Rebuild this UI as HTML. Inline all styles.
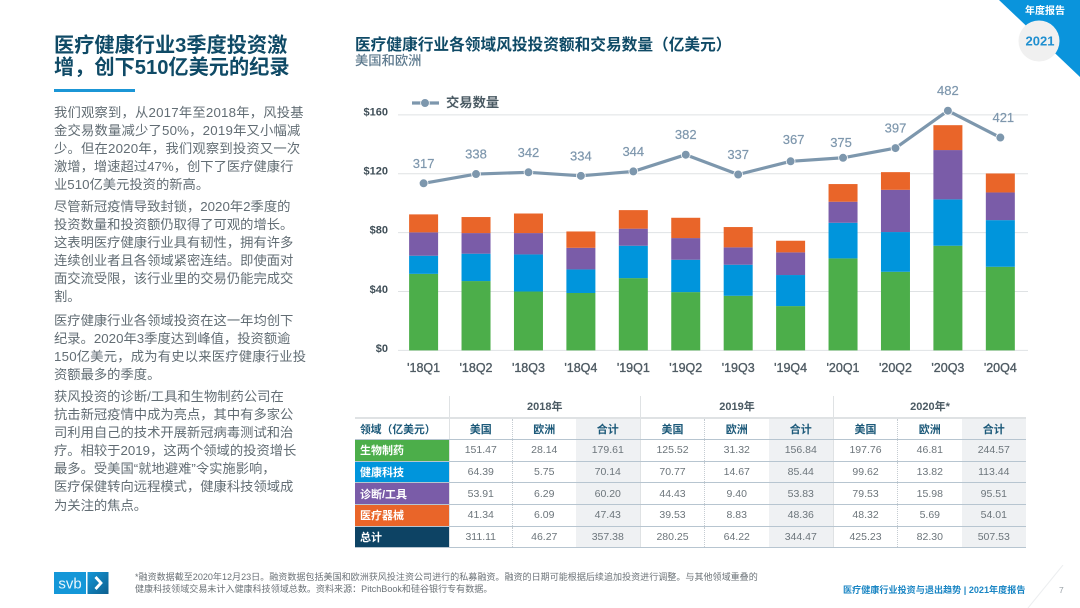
<!DOCTYPE html>
<html lang="zh-CN">
<head>
<meta charset="utf-8">
<title>医疗健康行业3季度投资激增</title>
<style>
html,body{margin:0;padding:0;background:#fff}
#page{position:relative;width:1080px;height:608px;overflow:hidden;background:#fff;font-family:"Liberation Sans","Noto Sans CJK SC",sans-serif}
.abs{position:absolute;white-space:nowrap}
#title{left:54px;top:34.5px;font-size:20.2px;line-height:22.4px;font-weight:700;color:#0f4a66}
.para{position:absolute;left:54px;font-size:13.3px;line-height:18.1px;color:#626d74;white-space:nowrap}
.wide{letter-spacing:.2px}
#chart{position:absolute;left:0;top:0}
#table{position:absolute;left:355px;top:396px;border-collapse:collapse;table-layout:fixed;width:671px;font-size:10.5px;color:#6c757b}
#table td,#table th{padding:0;text-align:center;vertical-align:middle;overflow:hidden}
#table tr{height:21.7px}
#table .yr{font-size:11px;font-weight:700;color:#4b5a63;border-bottom:2px solid #dfe2e4;border-left:1px solid #dfe2e4}
#table .sub{font-size:11px;font-weight:700;color:#1d5a7a;border-bottom:1px solid #b7c5d0}
#table .hd0{font-size:10.8px;font-weight:700;color:#1d5a7a;text-align:left;padding-left:5px;border-bottom:1px solid #b7c5d0;white-space:nowrap}
#table .cat{color:#fff;font-weight:700;font-size:11px;text-align:left;padding-left:5px;border-bottom:1px solid #fff}
#table .row td{border-bottom:1px solid #b7c5d0}
#table .us{border-left:1px solid #dfe2e4}
#table .eu{border-left:1px dotted #c5ccd2}
#table .tot{background:#eff1f3}
</style>
</head>
<body>
<div id="page">
  <div class="abs" id="title">医疗健康行业3季度投资激<br>增，创下510亿美元的纪录</div>
  <div class="abs" style="left:54px;top:89px;width:81px;height:2.5px;background:#1b96d6"></div>

  <div class="para" style="top:103.5px"><span class="wide">我们观察到，从2017年至2018年，风投基</span><br><span class="wide">金交易数量减少了50%，2019年又小幅减</span><br><span class="wide">少。但在2020年，我们观察到投资又一次</span><br>激增，增速超过47%，创下了医疗健康行<br>业510亿美元投资的新高。</div>
  <div class="para" style="top:198px">尽管新冠疫情导致封锁，2020年2季度的<br>投资数量和投资额仍取得了可观的增长。<br>这表明医疗健康行业具有韧性，拥有许多<br>连续创业者且各领域紧密连结。即使面对<br>面交流受限，该行业里的交易仍能完成交<br>割。</div>
  <div class="para" style="top:311.5px">医疗健康行业各领域投资在这一年均创下<br>纪录。2020年3季度达到峰值，投资额逾<br><span class="wide">150亿美元，成为有史以来医疗健康行业投</span><br>资额最多的季度。</div>
  <div class="para" style="top:388px">获风投资的诊断/工具和生物制药公司在<br>抗击新冠疫情中成为亮点，其中有多家公<br>司利用自己的技术开展新冠病毒测试和治<br>疗。相较于2019，这两个领域的投资增长<br>最多。受美国“就地避难”令实施影响，<br>医疗保健转向远程模式，健康科技领域成<br>为关注的焦点。</div>

  <div class="abs" style="left:355px;top:35.5px;font-size:15.7px;line-height:20px;font-weight:700;color:#0f4a66">医疗健康行业各领域风投投资额和交易数量（亿美元）</div>
  <div class="abs" style="left:355px;top:53px;font-size:13.3px;line-height:16px;font-weight:500;color:#5f7b8f">美国和欧洲</div>

  <svg id="chart" width="1080" height="392" viewBox="0 0 1080 392" xmlns="http://www.w3.org/2000/svg"></svg>

  <table id="table">
    <colgroup><col style="width:94px"><col style="width:63.5px"><col style="width:63px"><col style="width:65px"><col style="width:64px"><col style="width:64px"><col style="width:65px"><col style="width:64px"><col style="width:64px"><col style="width:64.5px"></colgroup>
    <tr><td style="border-bottom:2px solid #dfe2e4"></td><td class="yr" colspan="3">2018年</td><td class="yr" colspan="3">2019年</td><td class="yr" colspan="3">2020年*</td></tr>
    <tr><td class="hd0">领域（亿美元）</td><td class="sub us">美国</td><td class="sub eu">欧洲</td><td class="sub tot">合计</td><td class="sub us">美国</td><td class="sub eu">欧洲</td><td class="sub tot">合计</td><td class="sub us">美国</td><td class="sub eu">欧洲</td><td class="sub tot">合计</td></tr>
    <tr class="row"><td class="cat" style="background:#4cae4a">生物制药</td><td class="us">151.47</td><td class="eu">28.14</td><td class="tot">179.61</td><td class="us">125.52</td><td class="eu">31.32</td><td class="tot">156.84</td><td class="us">197.76</td><td class="eu">46.81</td><td class="tot">244.57</td></tr>
    <tr class="row"><td class="cat" style="background:#0095dc">健康科技</td><td class="us">64.39</td><td class="eu">5.75</td><td class="tot">70.14</td><td class="us">70.77</td><td class="eu">14.67</td><td class="tot">85.44</td><td class="us">99.62</td><td class="eu">13.82</td><td class="tot">113.44</td></tr>
    <tr class="row"><td class="cat" style="background:#7a5ca8">诊断/工具</td><td class="us">53.91</td><td class="eu">6.29</td><td class="tot">60.20</td><td class="us">44.43</td><td class="eu">9.40</td><td class="tot">53.83</td><td class="us">79.53</td><td class="eu">15.98</td><td class="tot">95.51</td></tr>
    <tr class="row"><td class="cat" style="background:#e96529">医疗器械</td><td class="us">41.34</td><td class="eu">6.09</td><td class="tot">47.43</td><td class="us">39.53</td><td class="eu">8.83</td><td class="tot">48.36</td><td class="us">48.32</td><td class="eu">5.69</td><td class="tot">54.01</td></tr>
    <tr class="row"><td class="cat" style="background:#0d4364">总计</td><td class="us">311.11</td><td class="eu">46.27</td><td class="tot">357.38</td><td class="us">280.25</td><td class="eu">64.22</td><td class="tot">344.47</td><td class="us">425.23</td><td class="eu">82.30</td><td class="tot">507.53</td></tr>
  </table>

  <svg class="abs" style="left:54px;top:572px" width="55" height="22" viewBox="0 0 55 22" xmlns="http://www.w3.org/2000/svg">
    <defs><linearGradient id="logoGrad" x1="0" y1="0" x2="1" y2="1"><stop offset="0" stop-color="#1497d8"/><stop offset="1" stop-color="#0d5f8e"/></linearGradient></defs>
    <rect x="0" y="0" width="32" height="22" fill="#1497d8"/>
    <rect x="33.5" y="0" width="21" height="22" fill="url(#logoGrad)"/>
    <text x="16" y="16.5" text-anchor="middle" font-family="'Liberation Sans',sans-serif" font-size="15" fill="#e8f5fc">svb</text>
    <path d="M41.5 5 L47 11 L41.5 17" fill="none" stroke="#fff" stroke-width="2.8"/>
  </svg>

  <div class="abs" style="left:135px;top:571px;font-size:9.05px;line-height:12px;color:#6b7277">*融资数据截至2020年12月23日。融资数据包括美国和欧洲获风投注资公司进行的私募融资。融资的日期可能根据后续追加投资进行调整。与其他领域重叠的<br>健康科技领域交易未计入健康科技领域总数。资料来源：PitchBook和硅谷银行专有数据。</div>
  <div class="abs" style="left:843px;top:584px;font-size:9.1px;line-height:12px;font-weight:700;color:#1b86c4">医疗健康行业投资与退出趋势 | 2021年度报告</div>
  <div class="abs" style="left:1059px;top:584px;font-size:8.5px;line-height:12px;color:#9aa2a8">7</div>

  <svg class="abs" style="left:990px;top:0" width="90" height="90" viewBox="990 0 90 90" xmlns="http://www.w3.org/2000/svg">
    <polygon points="999,0 1080,0 1080,77" fill="#0a94dc"/>
    <circle cx="1039" cy="41" r="20.5" fill="#f0f0f0"/>
    <text x="1045" y="14" text-anchor="middle" font-family="'Liberation Sans','Noto Sans CJK SC',sans-serif" font-size="10" font-weight="700" fill="#fff">年度报告</text>
    <text x="1040" y="45.5" text-anchor="middle" font-family="'Liberation Sans',sans-serif" font-size="13" font-weight="700" fill="#1f8fd0">2021</text>
  </svg>
  <svg class="abs" style="left:1025px;top:565px" width="45" height="43" xmlns="http://www.w3.org/2000/svg"><line x1="38" y1="0" x2="3" y2="43" stroke="#eceef0" stroke-width="1"/></svg>
</div>

<script>
const categories = ["'18Q1","'18Q2","'18Q3","'18Q4","'19Q1","'19Q2","'19Q3","'19Q4","'20Q1","'20Q2","'20Q3","'20Q4"];
const biopharma = [52.0,47.1,40.0,39.0,49.1,39.6,37.1,30.1,62.5,53.4,71.1,56.8];
const healthTech = [12.3,18.6,25.2,16.0,22.0,22.0,21.1,21.1,24.2,27.0,31.5,31.7];
const diagnostics = [15.9,14.0,14.5,14.7,11.6,14.7,11.8,15.4,14.3,28.7,33.5,18.8];
const devices = [12.2,10.9,13.3,11.1,12.6,13.8,13.8,7.9,12.0,12.0,16.9,12.9];
const dealCounts = [317,338,342,334,344,382,337,367,375,397,482,421];
const yTicks = [0,40,80,120,160];

const NS = 'http://www.w3.org/2000/svg';
const svg = document.getElementById('chart');
const FONT = "'Liberation Sans','Noto Sans CJK SC',sans-serif";
const LINE_COLOR = '#7d97ad';

function xPos(i){ return 423.6 + i * 52.43; }
function yPos(v){ return 350.4 - v * 1.472; }
function tickLabelY(v){ return 349 - v * 1.479; }
function countY(c){ return 183.3 - (c - 317) * 0.44; }

function make(tag, attrs, text){
  const el = document.createElementNS(NS, tag);
  for (const k in attrs) el.setAttribute(k, attrs[k]);
  if (text !== undefined) el.textContent = text;
  svg.appendChild(el);
  return el;
}

yTicks.forEach(function(t){
  const grid = make('line', {x1:398, x2:1028, y1:yPos(t), y2:yPos(t), stroke:'#dfe2e4', 'stroke-width':1});
  
  
  const label = make('text', {x:388, y:tickLabelY(t), 'text-anchor':'end', 'dominant-baseline':'central', 'font-family':FONT, 'font-size':11, 'font-weight':700, fill:'#3f4e57'}, '$' + t);
  
  
});

const seriesList = [
  {values: biopharma, color: '#4cae4a'},
  {values: healthTech, color: '#0095dc'},
  {values: diagnostics, color: '#7a5ca8'},
  {values: devices, color: '#e96529'}
];
const BAR_W = 29;
categories.forEach(function(cat, i){
  let base = 0;
  seriesList.forEach(function(s){
    const top = base + s.values[i];
    const seg = make('rect', {x:xPos(i)-BAR_W/2, y:yPos(top), width:BAR_W, height:yPos(base)-yPos(top), fill:s.color});
    
    
    base = top;
  });
  const xl = make('text', {x:xPos(i), y:368, 'text-anchor':'middle', 'dominant-baseline':'central', 'font-family':FONT, 'font-size':12.5, fill:'#4f5b63', stroke:'#4f5b63', 'stroke-width':0.35}, cat);
  
  
});

const pts = dealCounts.map(function(c, i){ return xPos(i) + ',' + countY(c); }).join(' ');
const dealLine = make('polyline', {points:pts, fill:'none', stroke:LINE_COLOR, 'stroke-width':3.2, 'stroke-linejoin':'round'});



function labelDx(i){ return i === 8 ? -2 : (i === 7 || i === 11 ? 3 : 0); }
function labelDy(i){ return i === 8 ? -15.5 : (i === 7 ? -22 : -20); }
dealCounts.forEach(function(c, i){
  const dot = make('circle', {cx:xPos(i), cy:countY(c), r:4.4, fill:LINE_COLOR, stroke:'#fff', 'stroke-width':0.8});
  
  
  const lab = make('text', {x:xPos(i)+labelDx(i), y:countY(c)+labelDy(i), 'text-anchor':'middle', 'dominant-baseline':'central', 'font-family':FONT, 'font-size':13, fill:'#7e97ad', stroke:'#7e97ad', 'stroke-width':0.2}, c);
  
  
});

const legendLine = make('line', {x1:412, x2:439, y1:103, y2:103, stroke:LINE_COLOR, 'stroke-width':3.2});


const legendDot = make('circle', {cx:425, cy:103, r:4.4, fill:LINE_COLOR, stroke:'#fff', 'stroke-width':0.8});


const legendText = make('text', {x:446, y:102.5, 'dominant-baseline':'central', 'font-family':FONT, 'font-size':13.3, 'font-weight':700, fill:'#4a5a63'}, '交易数量');


</script>
</body>
</html>
